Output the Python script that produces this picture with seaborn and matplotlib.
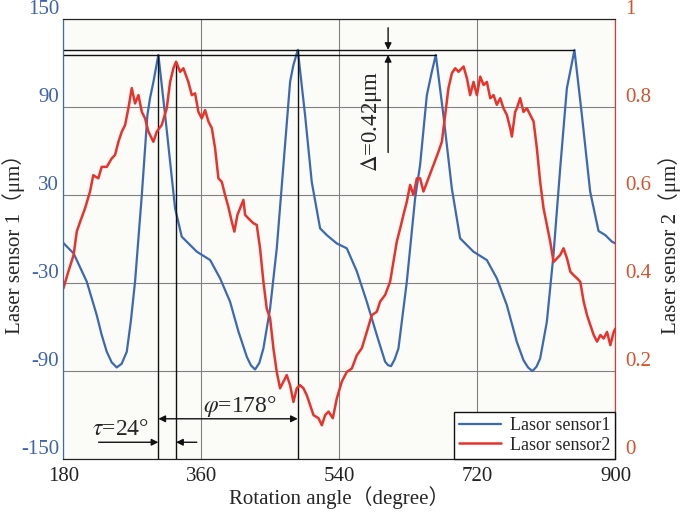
import numpy as np
import pandas as pd
import matplotlib
matplotlib.use('Agg')
import matplotlib.pyplot as plt
import seaborn as sns

sns.set_style('white')
plt.rcParams['font.family'] = ['Liberation Serif', 'Noto Sans CJK SC']
plt.rcParams['mathtext.fontset'] = 'stix'
plt.rcParams['axes.unicode_minus'] = False

# sensor 1 (um)
angle1 = [180, 193.4, 210.5, 223.5, 229.8, 236.6, 243, 249.6, 256, 262.7, 268, 273.5, 282.3,
          289.6, 293, 297.4, 303.9, 312.7, 325.7, 334.4, 354, 371.4, 384.4, 397.4, 408.3,
          419.2, 424.5, 430, 435.5, 440.9, 449.6, 458.3, 467, 475.7, 480, 485.7, 495.2, 503.9,
          514.8, 523.5, 536.6, 549.6, 562.7, 575.7, 588.8, 599.6, 603.5, 607.4, 612, 617,
          627.9, 638.7, 645.2, 654, 660.5, 665.7, 675.6, 686.6, 697.4, 714.8, 732.2, 745.3,
          758.3, 771.3, 780, 786, 791.7, 797, 801.8, 810.5, 819.1, 827.9, 836.6, 840.9,
          846.5, 856.2, 867, 877.9, 886.7, 895.4, 900]
sensor1 = [-2.7, -9.8, -29, -51.8, -65, -76.8, -84, -87.5, -85, -76.8, -56, -29, 30,
           84.5, 96, 107, 125.5, 84.5, 20.9, 1.6, -8.6, -14.3, -26.8, -42.7, -63,
           -80.2, -86, -88.9, -84.5, -74.5, -47.3, -6.3, 50.5, 107.3, 118.6, 128.9, 84.5, 39,
           7.3, 2.7, -3, -6.3, -22, -42.7, -65.5, -83.6, -86, -86.6, -82, -74.5,
           -29, 27.7, 50.5, 98, 114, 125.5, 84.5, 34.5, 0.5, -8.6, -14.3, -26.8,
           -45, -70, -82.5, -87.5, -90, -87, -81.4, -56.4, -11, 48.2, 102.7, 114,
           128.9, 84.5, 32.3, 5.5, 2.7, -1.8, -3]

# sensor 2 (um)
angle2 = [180, 186.5, 193.4, 197.5, 201.8, 208.3, 214.8, 219, 225.6, 230, 236.6, 243,
          247.4, 251.8, 256.2, 260.5, 264.8, 269.2, 273.5, 277.9, 282.3, 286.6, 290.9,
          297.4, 301.8, 308.3, 314.8, 319.2, 323.5, 327, 332.2, 336.5, 343, 347.5, 351.8,
          356.1, 360.5, 364.8, 369.2, 373.6, 377.9, 382.2, 386.6, 390.9, 395.2, 399.7,
          403, 407, 410.5, 414.8, 417, 421.3, 427.8, 432.2, 436.5, 440.9, 445.2, 449.6,
          453.9, 458.3, 462.6, 467, 471.3, 475.7, 480, 484.4, 488.7, 493.1, 497.5, 501.8,
          506.2, 512.7, 517.1, 521.4, 525.8, 531.4, 536.6, 543.1, 549.6, 556.2, 562.7,
          569.2, 575.7, 582.2, 588.8, 593.1, 599.6, 606.1, 610.4, 614.8, 619.2, 623.5,
          627.9, 632.2, 636.5, 641, 645.2, 649.6, 656.1, 662.6, 669.1, 673.6, 677.9,
          682.2, 686.7, 691, 695.3, 701.9, 706.3, 710.5, 714.9, 719.3, 723.6, 728, 732.3,
          736.7, 741, 745.3, 749.7, 754, 758.4, 762.7, 764.9, 769.2, 771.4, 775.7, 780,
          784.5, 788.8, 793.2, 797.5, 801.8, 806.2, 810.6, 814.9, 819.3, 823.7, 828,
          832.3, 836.8, 841.1, 845.4, 849.8, 854.1, 858.5, 862.9, 867.2, 871.6, 876,
          880.3, 884.6, 889, 893.3, 897.7, 900]
sensor2 = [0.388, 0.426, 0.464, 0.517, 0.539, 0.57, 0.608, 0.645, 0.638, 0.664, 0.664, 0.683,
           0.691, 0.721, 0.744, 0.759, 0.797, 0.843, 0.808, 0.827, 0.789, 0.774, 0.744,
           0.721, 0.744, 0.759, 0.797, 0.857, 0.888, 0.903, 0.880, 0.888, 0.857, 0.827, 0.831,
           0.789, 0.774, 0.793, 0.767, 0.752, 0.706, 0.638, 0.630, 0.60, 0.573, 0.539,
           0.517, 0.555, 0.570, 0.589, 0.555, 0.547, 0.536, 0.532, 0.479, 0.403, 0.342, 0.320,
           0.252, 0.198, 0.161, 0.176, 0.191, 0.168, 0.130, 0.161, 0.168, 0.161, 0.145, 0.123,
           0.10, 0.093, 0.077, 0.10, 0.108, 0.093, 0.138, 0.176, 0.198, 0.206, 0.236,
           0.252, 0.289, 0.327, 0.335, 0.358, 0.373, 0.403, 0.448, 0.494, 0.524, 0.555,
           0.585, 0.623, 0.60, 0.638, 0.638, 0.608, 0.638, 0.668, 0.698, 0.721, 0.782,
           0.843, 0.877, 0.888, 0.880, 0.892, 0.865, 0.827, 0.857, 0.827, 0.869, 0.85, 0.857,
           0.820, 0.827, 0.805, 0.820, 0.797, 0.782, 0.752, 0.733, 0.789, 0.797, 0.820, 0.789,
           0.797, 0.782, 0.767, 0.706, 0.630, 0.570, 0.532, 0.494, 0.448, 0.456, 0.464,
           0.479, 0.456, 0.426, 0.418, 0.411, 0.403, 0.358, 0.327, 0.305, 0.282, 0.267,
           0.282, 0.274, 0.289, 0.259, 0.289, 0.297]

x_ticks = [180, 360, 540, 720, 900]
y1_ticks = [-150, -90, -30, 30, 90, 150]
y2_ticks = [0, 0.2, 0.4, 0.6, 0.8, 1]

blue = '#3b69b3'
red = '#e8322b'
df1 = pd.DataFrame({'angle': angle1, 'value': sensor1})
df2 = pd.DataFrame({'angle': angle2, 'value': sensor2})

fig = plt.figure(figsize=(6.85, 5.13), dpi=100)
ax = fig.add_axes([0.0925, 0.105, 0.806, 0.858])
ax.set_facecolor('#fbfbf7')
ax2 = ax.twinx()

sns.lineplot(data=df1, x='angle', y='value', ax=ax, color=blue, lw=1.6,
             estimator=None, label='Lasor sensor1', legend=False)
sns.lineplot(data=df2, x='angle', y='value', ax=ax2, color=red, lw=1.8,
             estimator=None, label='Lasor sensor2', legend=False)

ax.set_xlim(180, 900)
ax.set_ylim(-150, 150)
ax2.set_ylim(0, 1)
ax.set_xticks(x_ticks)
ax.set_yticks(y1_ticks)
ax2.set_yticks(y2_ticks)
ax2.set_yticklabels(['0', '0.2', '0.4', '0.6', '0.8', '1'])
ax.grid(True, color='#808080', lw=0.8)
ax.set_axisbelow(True)

ax.tick_params(axis='x', length=0, pad=6, labelsize=15, labelcolor='#222222')
ax.tick_params(axis='y', length=0, pad=3, labelsize=15, labelcolor='#3d63ad')
ax2.tick_params(axis='y', length=0, pad=7, labelsize=15, labelcolor='#d4512b')
for lab in ax.get_yticklabels() + ax2.get_yticklabels():
    lab.set_va('bottom')

ax.set_xlabel('Rotation angle（degree）', fontsize=15, labelpad=0)
ax.set_ylabel('Laser sensor 1（μm）', fontsize=15)
ax2.set_ylabel('Laser sensor 2（μm）', fontsize=15)
ax.yaxis.set_label_coords(-0.07, 0.5)
ax2.yaxis.set_label_coords(1.078, 0.5)

for a in (ax, ax2):
    a.spines['top'].set_color('#222222')
    a.spines['bottom'].set_color('#222222')
    a.spines['left'].set_color(blue)
    a.spines['right'].set_color(red)

# peaks used for the annotations
s1 = np.array(sensor1)
a1 = np.array(angle1)
p1 = np.argmax(np.where(a1 < 400, s1, -999))
p2 = np.argmax(np.where((a1 > 400) & (a1 < 560), s1, -999))
p3 = np.argmax(np.where((a1 > 560) & (a1 < 760), s1, -999))
p4 = np.argmax(np.where(a1 > 760, s1, -999))
r1 = int(np.argmax(np.where(np.array(angle2) < 400, sensor2, -1)))
red_peak_left = -150 + sensor2[r1] * 300

k = dict(color='#111111', lw=1.0)
ax.plot([180, a1[p4]], [s1[p4], s1[p4]], **k)
ax.plot([180, a1[p3]], [s1[p3], s1[p3]], **k)
ax.plot([a1[p1], a1[p1]], [-150, s1[p1]], **k)
ax.plot([a1[p2], a1[p2]], [-150, s1[p2]], **k)
ax.plot([angle2[r1], angle2[r1]], [-150, red_peak_left], **k)

arr = dict(arrowstyle='-|>', color='#111111', lw=1.0, mutation_scale=10, shrinkA=0, shrinkB=0)
ax.annotate('', xy=(a1[p1], -138.5), xytext=(226, -138.5), arrowprops=arr)
ax.annotate('', xy=(angle2[r1], -138.5), xytext=(354, -138.5), arrowprops=arr)
ax.text(255, -130, r'$\tau$=24°', fontsize=17, ha='center', va='center')
ax.annotate('', xy=(a1[p2], -122.5), xytext=(a1[p1], -122.5),
            arrowprops=dict(arr, arrowstyle='<|-|>'))
ax.text(410, -114, r'$\varphi$=178°', fontsize=17, ha='center', va='center')
ax.annotate('', xy=(603.5, s1[p4]), xytext=(603.5, 144), arrowprops=arr)
ax.annotate('', xy=(603.5, s1[p3]), xytext=(603.5, 59), arrowprops=arr)
ax.text(582, 80, r'$\mathit{\Delta}$=0.42μm', fontsize=16.5, rotation=90, ha='center', va='center')

h1, l1 = ax.get_legend_handles_labels()
h2, l2 = ax2.get_legend_handles_labels()
leg = ax2.legend(h1 + h2, l1 + l2, loc='lower right', bbox_to_anchor=(1.0, 0.0),
                 fontsize=13, frameon=True, fancybox=False, framealpha=1,
                 borderaxespad=0, handlelength=2.3, borderpad=0.3, labelspacing=0.15,
                 handletextpad=0.5)
leg.get_frame().set_edgecolor('#111111')
leg.get_frame().set_linewidth(1.0)

fig.savefig('out.png', dpi=100)
